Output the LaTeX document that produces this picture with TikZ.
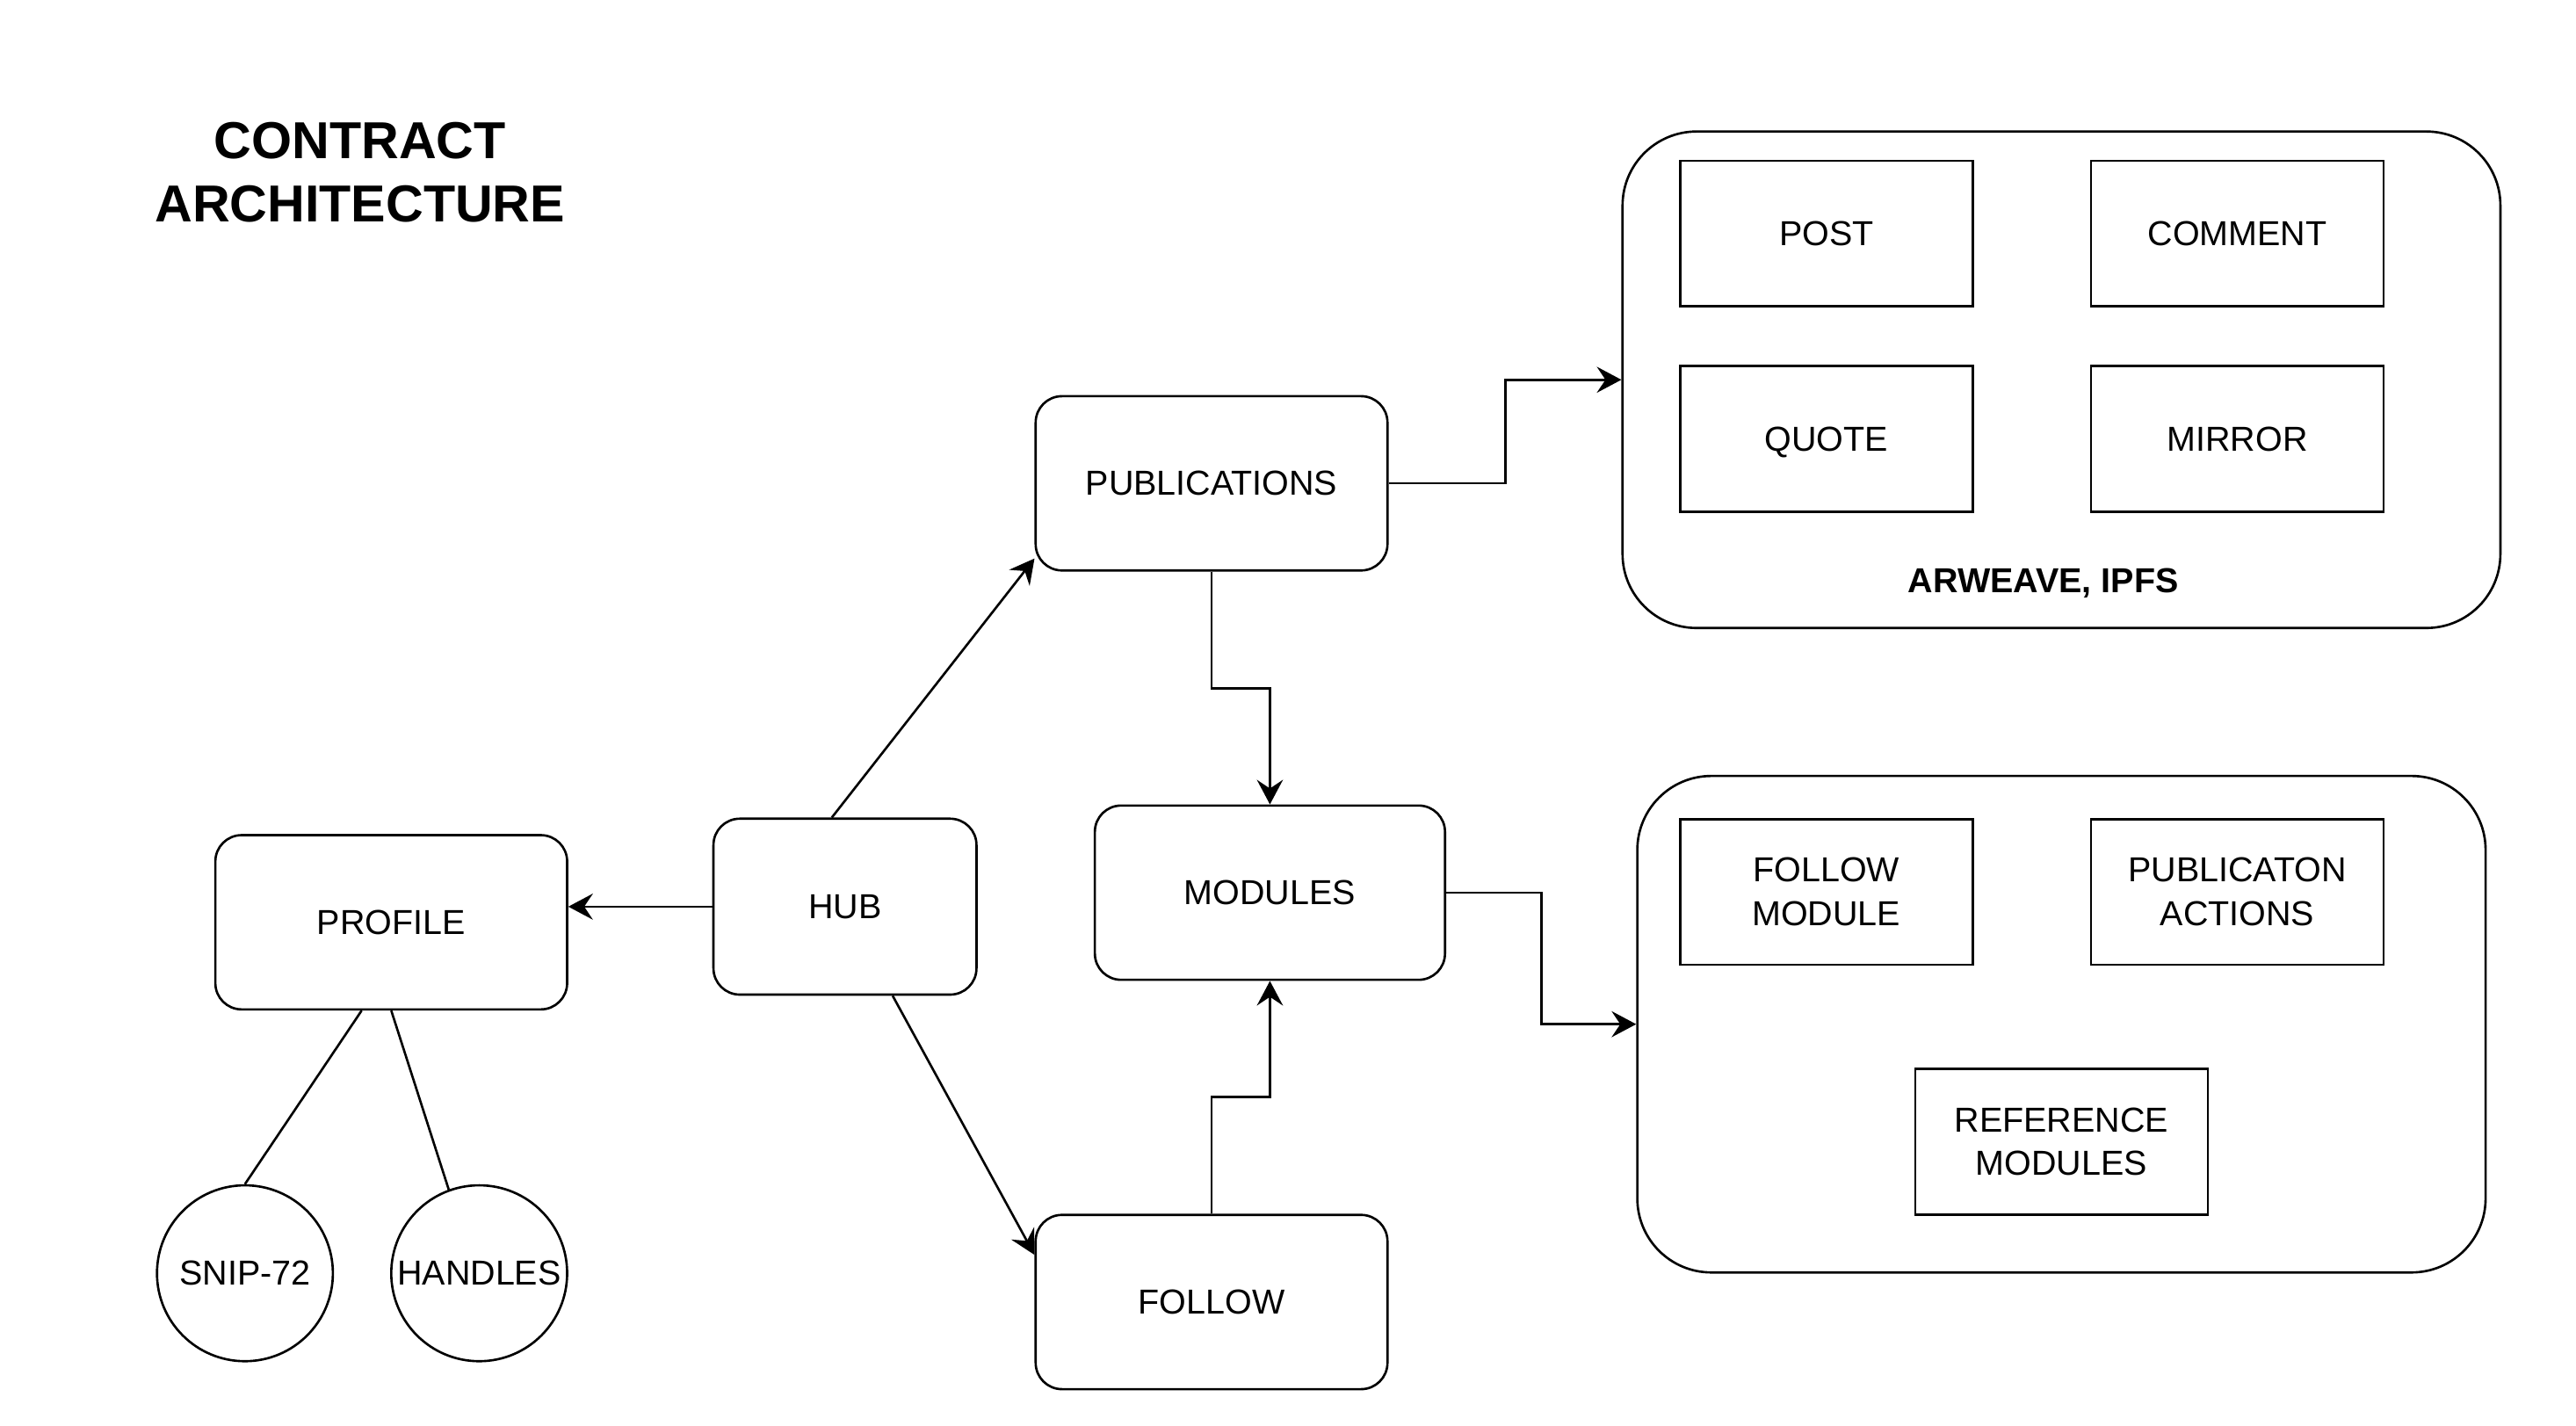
\documentclass[tikz,border=0pt]{standalone}
\usepackage{fontspec}
\setmainfont{Liberation Sans}
\usetikzlibrary{positioning, arrows.meta, calc}
\tikzset{
  rbox/.style={draw, rounded corners=0.32cm, minimum width=4.28cm, minimum height=2.12cm,
    inner sep=0, line width=0.8pt, font=\fontsize{12}{15}\selectfont},
  sqbox/.style={draw, minimum width=3.56cm, minimum height=1.77cm, inner sep=0,
    line width=0.8pt, align=center, font=\fontsize{12}{15}\selectfont},
  group/.style={draw, rounded corners=0.9cm, minimum height=6.04cm, inner sep=0,
    line width=0.8pt},
  circ/.style={draw, circle, minimum size=2.14cm, inner sep=0, line width=0.8pt,
    font=\fontsize{12}{15}\selectfont},
  noborder/.style={draw=none, outer sep=0, inner sep=0, align=center},
  conn/.style={-{Stealth[length=8.5pt, width=9pt, inset=3pt]}, line width=0.8pt},
  link/.style={line width=0.8pt}
}

\begin{document}
\begin{tikzpicture}

\useasboundingbox (0,0) rectangle (31.34,17.34);

\node [noborder, font=\bfseries\fontsize{18}{22}\selectfont] (title) at (4.38,15.24) {CONTRACT\\ARCHITECTURE};

% storage
\node [group, minimum width=10.68cm] (storage) at (25.08,12.72) {};
\node [sqbox] (post) at (22.22,14.50) {POST};
\node [sqbox] (comment) at (27.22,14.50) {COMMENT};
\node [sqbox, text depth=0pt] (quote) at (22.22,12.00) {QUOTE};
\node [sqbox] (mirror) at (27.22,12.00) {MIRROR};
\node [noborder, font=\bfseries\fontsize{12}{15}\selectfont] (storelabel) at (24.86,10.24) {ARWEAVE, IPFS};

% modules
\node [group, minimum width=10.32cm] (modbox) at (25.08,4.88) {};
\node [sqbox] (folmod) at (22.22,6.49) {FOLLOW\\MODULE};
\node [sqbox] (pubact) at (27.22,6.49) {PUBLICATON\\ACTIONS};
\node [sqbox] (refmod) at (25.08,3.45) {REFERENCE\\MODULES};


\node [rbox] (pub) at (14.74,11.46) {PUBLICATIONS};
\node [rbox, minimum width=4.26cm] (modules) at (15.45,6.48) {MODULES};
\node [rbox, minimum width=3.2cm, minimum height=2.14cm] (hub) at (10.28,6.31) {HUB};
\node [rbox] (profile) at (4.76,6.12) {PROFILE};
\node [rbox] (follow) at (14.74,1.50) {FOLLOW};

\node [circ] (snip) at (2.98,1.85) {SNIP-72};
\node [circ] (handles) at (5.83,1.85) {HANDLES};


\draw[conn] ([xshift=-0.16cm]hub.north) -- (pub.203);
\draw[conn] (hub.west) -- (hub.west -| profile.east);
\draw[conn] ([xshift=0.58cm]hub.south) -- ([yshift=-0.5cm]follow.north west);

\draw[conn] (pub.east) -- ++(1.42,0) |- (storage.west);
\draw[conn] (pub.south) -- ++(0,-1.42) -| (modules.north);
\draw[conn] (follow.north) -- ++(0,1.42) -| (modules.south);
\draw[conn] (modules.east) -- ++(1.16,0) |- (modbox.west);

\draw[link] ([xshift=-0.36cm]profile.south) -- (snip.north);
\draw[link] (profile.south) -- (handles.110);

\end{tikzpicture}
\end{document}
